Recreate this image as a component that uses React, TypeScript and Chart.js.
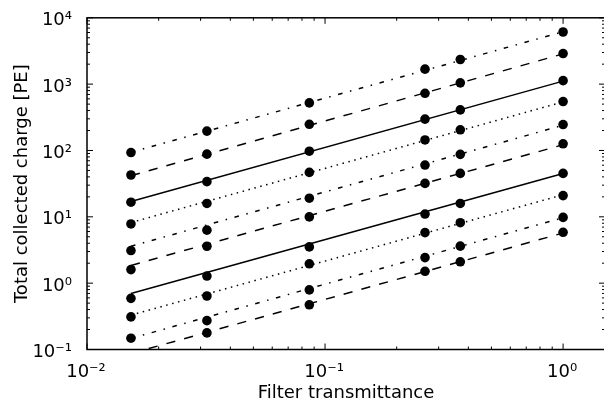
import React, { useEffect, useRef } from "react";
import { Chart, registerables } from "chart.js";

Chart.register(...registerables);

// Filter transmittance values at which charge was measured
const transmittance = [0.0153, 0.0319, 0.0859, 0.263, 0.37, 1.0];
// x range covered by each fitted line
const fitRange = [0.0153, 1.0];

// Measured total collected charge [PE], top series to bottom series
const seriesA = [93, 196, 521, 1683, 2351, 6109];
const seriesB = [42.7, 88, 248, 728, 1046, 2893];
const seriesC = [16.6, 33.9, 97.6, 297, 409, 1128];
const seriesD = [7.8, 15.9, 46.7, 144, 205, 547];
const seriesE = [3.1, 6.3, 19.1, 60.3, 87.4, 246];
const seriesF = [1.6, 3.6, 9.97, 31.9, 45.1, 126];
const seriesG = [0.59, 1.28, 3.52, 11.0, 15.9, 45.1];
const seriesH = [0.31, 0.64, 1.96, 5.78, 8.16, 20.9];
const seriesI = [0.148, 0.272, 0.791, 2.43, 3.61, 9.8];
const seriesJ = [null, 0.178, 0.472, 1.51, 2.1, 5.84];

// Fitted line values at the two ends of fitRange
const fitA = [94, 6150];
const fitB = [41.5, 2860];
const fitC = [17, 1110];
const fitD = [8.2, 540];
const fitE = [3.6, 240];
const fitF = [1.85, 122];
const fitG = [0.7, 45];
const fitH = [0.33, 21.5];
const fitI = [0.147, 9.7];
const fitJ = [0.087, 5.7];

const xTitle = "Filter transmittance";
const yTitle = "Total collected charge [PE]";
const xLimits = [0.01, 1.5];
const yLimits = [0.1, 10000];

const FONT = "DejaVu Sans";

const DASHDOT = [4.6, 7.7, 1.5, 7.7];
const DASHED = [9.2, 9.2];
const DOTTED = [1.5, 4.6];
const SOLID: number[] = [];

const allSeries = [seriesA, seriesB, seriesC, seriesD, seriesE, seriesF, seriesG, seriesH, seriesI, seriesJ];
const allFits = [fitA, fitB, fitC, fitD, fitE, fitF, fitG, fitH, fitI, fitJ];
const styles = [DASHDOT, DASHED, SOLID, DOTTED, DASHDOT, DASHED, SOLID, DOTTED, DASHDOT, DASHED];

const SUP: Record<string, string> = {
  "0": "\u2070", "1": "\u00B9", "2": "\u00B2", "3": "\u00B3", "4": "\u2074",
  "5": "\u2075", "6": "\u2076", "7": "\u2077", "8": "\u2078", "9": "\u2079", "-": "\u207B",
};

function decadeLabel(v: number): string {
  const l = Math.log10(v);
  const r = Math.round(l);
  if (Math.abs(l - r) > 1e-6) return "";
  return "10" + String(r).split("").map((c) => SUP[c] || c).join("");
}

function mantissa(v: number): number | null {
  const e = Math.floor(Math.log10(v) + 1e-9);
  const m = v / Math.pow(10, e);
  const r = Math.round(m);
  if (Math.abs(m - r) > 1e-6 || r < 1 || r > 9) return null;
  return r;
}

const framePlugin = {
  id: "frame",
  afterDatasetsDraw(chart: any) {
    const { ctx, chartArea: a, scales } = chart;
    ctx.save();
    ctx.strokeStyle = "#000";
    ctx.lineWidth = 1;
    ctx.beginPath();
    for (const t of scales.x.ticks) {
      const m = mantissa(t.value);
      if (m === null) continue;
      const len = m === 1 ? 6 : 3;
      const p = scales.x.getPixelForValue(t.value);
      ctx.moveTo(p, a.bottom);
      ctx.lineTo(p, a.bottom - len);
      ctx.moveTo(p, a.top);
      ctx.lineTo(p, a.top + len);
    }
    for (const t of scales.y.ticks) {
      const m = mantissa(t.value);
      if (m === null) continue;
      const len = m === 1 ? 6 : 3;
      const p = scales.y.getPixelForValue(t.value);
      ctx.moveTo(a.left, p);
      ctx.lineTo(a.left + len, p);
      ctx.moveTo(a.right, p);
      ctx.lineTo(a.right - len, p);
    }
    ctx.stroke();
    ctx.lineWidth = 1.5;
    ctx.strokeRect(a.left, a.top, a.right - a.left, a.bottom - a.top);
    ctx.restore();
  },
};

export default function App() {
  const ref = useRef<HTMLCanvasElement | null>(null);

  useEffect(() => {
    const canvas = ref.current;
    if (!canvas) return;

    const datasets: any[] = [];
    allSeries.forEach((s) => {
      datasets.push({
        type: "scatter",
        data: transmittance
          .map((x, j) => ({ x, y: s[j] }))
          .filter((p) => p.y !== null && p.y !== undefined),
        pointRadius: 4.8,
        pointHoverRadius: 4.8,
        pointBackgroundColor: "#000",
        pointBorderWidth: 0,
        showLine: false,
        order: 0,
      });
    });
    allFits.forEach((f, i) => {
      datasets.push({
        type: "line",
        data: fitRange.map((x, j) => ({ x, y: f[j] })),
        borderColor: "#000",
        borderWidth: 1.5,
        borderDash: styles[i],
        pointRadius: 0,
        fill: false,
        tension: 0,
        order: 1,
      });
    });

    const tickFont = { family: FONT, size: 18 };

    const chart = new Chart(canvas, {
      type: "scatter",
      data: { datasets },
      plugins: [framePlugin],
      options: {
        animation: false,
        responsive: false,
        maintainAspectRatio: false,
        devicePixelRatio: 1,
        layout: { padding: { left: 0, top: 15, right: 7, bottom: 0 } },
        plugins: { legend: { display: false }, tooltip: { enabled: false } },
        events: [],
        scales: {
          x: {
            type: "logarithmic",
            position: "bottom",
            min: xLimits[0],
            max: xLimits[1],
            grid: { display: false },
            border: { display: false },
            ticks: {
              autoSkip: false,
              maxRotation: 0,
              minRotation: 0,
              padding: 4,
              labelOffset: -1,
              color: "#000",
              font: tickFont,
              callback: (v: any) => decadeLabel(Number(v)),
            },
            title: {
              display: true,
              text: xTitle,
              color: "#000",
              font: { family: FONT, size: 18, lineHeight: 0.8 },
              padding: 0,
            },
            afterFit: (s: any) => {
              s.height = 51.5;
            },
          },
          y: {
            type: "logarithmic",
            position: "left",
            min: yLimits[0],
            max: yLimits[1],
            grid: { display: false },
            border: { display: false },
            ticks: {
              autoSkip: false,
              padding: 7,
              labelOffset: 3,
              color: "#000",
              font: tickFont,
              callback: (v: any) => decadeLabel(Number(v)),
            },
            title: {
              display: true,
              text: yTitle,
              color: "#000",
              font: { family: FONT, size: 18, lineHeight: 1 },
              padding: { top: 13.5, bottom: 0 },
            },
            afterFit: (s: any) => {
              s.width = 87;
            },
          },
        },
      } as any,
    });

    return () => chart.destroy();
  }, []);

  return (
    <div style={{ position: "fixed", left: 0, top: 0 }}>
      <canvas ref={ref} width={612} height={401} style={{ width: 612, height: 401, display: "block" }} />
    </div>
  );
}
